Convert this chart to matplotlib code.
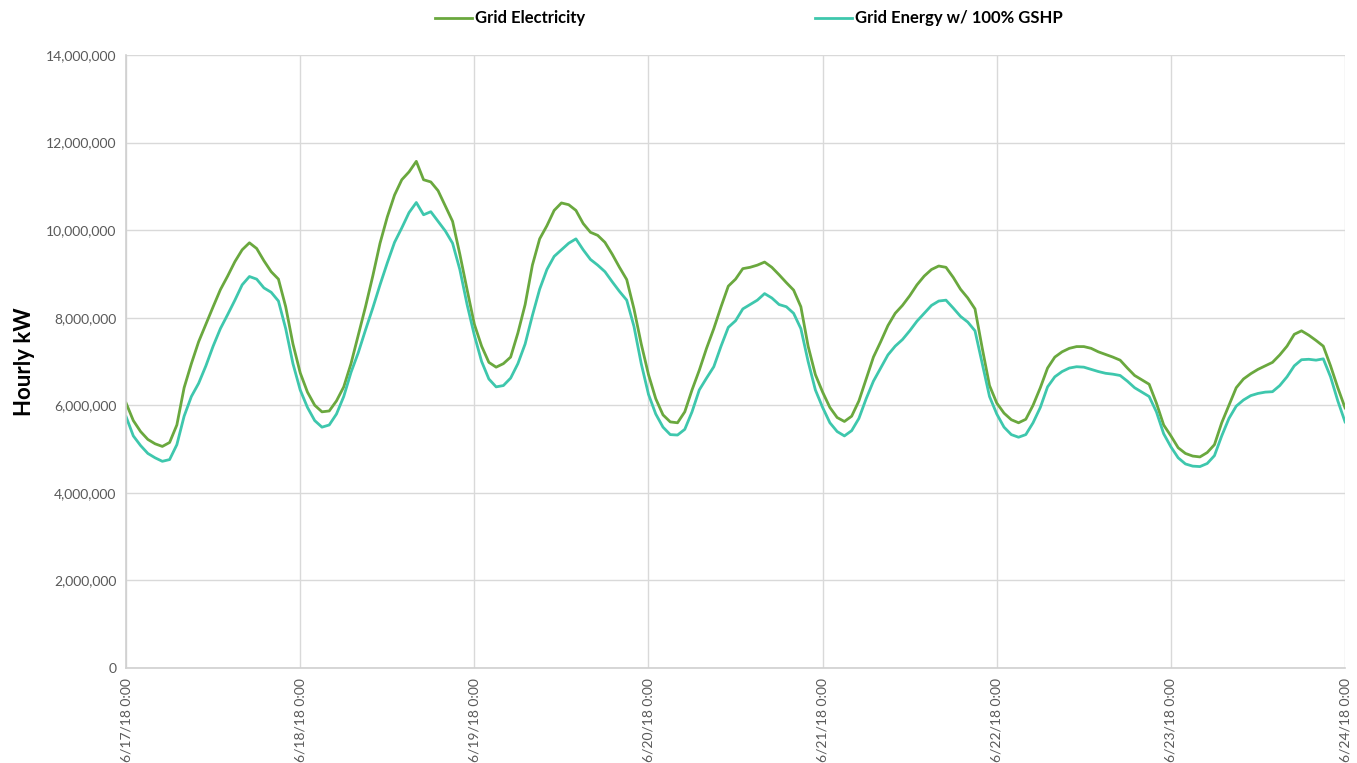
import matplotlib
matplotlib.use("Agg")
import matplotlib.pyplot as plt
import matplotlib.ticker as mticker

# hourly values (millions of kW), 6/17/18 0:00 .. 6/24/18 0:00
grid_elec = [
    6.05, 5.65, 5.40, 5.22, 5.12, 5.06, 5.15, 5.55, 6.40, 6.95, 7.45, 7.85,
    8.25, 8.64, 8.95, 9.28, 9.55, 9.71, 9.58, 9.30, 9.05, 8.88, 8.25, 7.40,
    6.74, 6.30, 6.00, 5.85, 5.87, 6.10, 6.42, 6.95, 7.60, 8.25, 8.95, 9.70,
    10.30, 10.80, 11.15, 11.33, 11.57, 11.15, 11.10, 10.90, 10.55, 10.20, 9.45, 8.64,
    7.85, 7.35, 6.98, 6.87, 6.95, 7.10, 7.65, 8.30, 9.20, 9.80, 10.10, 10.45,
    10.62, 10.58, 10.45, 10.15, 9.95, 9.88, 9.72, 9.45, 9.15, 8.87, 8.20, 7.40,
    6.70, 6.15, 5.78, 5.62, 5.60, 5.85, 6.35, 6.80, 7.30, 7.75, 8.25, 8.72,
    8.88, 9.12, 9.15, 9.20, 9.27, 9.15, 8.98, 8.80, 8.63, 8.25, 7.35, 6.70,
    6.30, 5.95, 5.72, 5.63, 5.75, 6.10, 6.60, 7.10, 7.45, 7.82, 8.10, 8.28,
    8.50, 8.75, 8.95, 9.10, 9.18, 9.15, 8.92, 8.65, 8.45, 8.20, 7.30, 6.45,
    6.05, 5.82, 5.67, 5.60, 5.68, 6.00, 6.40, 6.85, 7.10, 7.22, 7.30, 7.34,
    7.34, 7.30, 7.22, 7.16, 7.10, 7.03, 6.85, 6.68, 6.58, 6.48, 6.05, 5.55,
    5.30, 5.03, 4.90, 4.84, 4.82, 4.92, 5.10, 5.60, 6.00, 6.40, 6.60, 6.72,
    6.82, 6.90, 6.98, 7.15, 7.35, 7.62, 7.70, 7.60, 7.48, 7.35, 6.90, 6.40,
    5.94,
]
grid_gshp = [
    5.74, 5.30, 5.08, 4.90, 4.80, 4.72, 4.76, 5.10, 5.75, 6.20, 6.50, 6.90,
    7.35, 7.75, 8.07, 8.40, 8.75, 8.94, 8.88, 8.68, 8.58, 8.38, 7.75, 6.95,
    6.35, 5.95, 5.65, 5.50, 5.55, 5.80, 6.20, 6.75, 7.20, 7.72, 8.22, 8.75,
    9.25, 9.72, 10.05, 10.40, 10.63, 10.35, 10.42, 10.20, 9.98, 9.70, 9.10, 8.30,
    7.60, 7.00, 6.60, 6.42, 6.45, 6.62, 6.95, 7.40, 8.05, 8.65, 9.10, 9.40,
    9.55, 9.70, 9.80, 9.55, 9.33, 9.20, 9.05, 8.82, 8.60, 8.40, 7.80, 6.95,
    6.25, 5.80, 5.50, 5.33, 5.32, 5.45, 5.85, 6.35, 6.62, 6.88, 7.35, 7.78,
    7.93, 8.20, 8.30, 8.40, 8.55, 8.45, 8.30, 8.25, 8.10, 7.75, 7.00, 6.35,
    5.95, 5.60, 5.40, 5.30, 5.42, 5.70, 6.15, 6.55, 6.85, 7.15, 7.35, 7.50,
    7.70, 7.92, 8.10, 8.28, 8.38, 8.40, 8.22, 8.03, 7.90, 7.70, 6.95, 6.20,
    5.80, 5.50, 5.33, 5.27, 5.33, 5.60, 5.95, 6.42, 6.65, 6.77, 6.85, 6.88,
    6.87, 6.82, 6.77, 6.73, 6.71, 6.68, 6.55, 6.40, 6.30, 6.20, 5.85, 5.35,
    5.05, 4.80, 4.66, 4.61, 4.60, 4.67, 4.85, 5.30, 5.70, 5.98, 6.12, 6.22,
    6.27, 6.30, 6.31, 6.45, 6.65, 6.90, 7.04, 7.05, 7.03, 7.06, 6.65, 6.10,
    5.62,
]
day_labels = ["6/17/18 0:00", "6/18/18 0:00", "6/19/18 0:00", "6/20/18 0:00",
              "6/21/18 0:00", "6/22/18 0:00", "6/23/18 0:00", "6/24/18 0:00"]

hours = list(range(len(grid_elec)))
elec = [v * 1e6 for v in grid_elec]
gshp = [v * 1e6 for v in grid_gshp]

plt.rcParams['font.family'] = ['Lato', 'DejaVu Sans']

fig = plt.figure(figsize=(13.57, 7.63), dpi=100)
ax = fig.add_axes([0.0929, 0.1245, 0.8983, 0.8035])

l1, = ax.plot(hours, elec, color='#6aa83e', lw=2.0, label='Grid Electricity',
              solid_joinstyle='round')
l2, = ax.plot(hours, gshp, color='#3ec7ad', lw=2.0, label='Grid Energy w/ 100% GSHP',
              solid_joinstyle='round')

ax.set_xlim(0, 168)
ax.set_ylim(0, 14e6)
ax.set_yticks(range(0, 14000001, 2000000))
ax.yaxis.set_major_formatter(mticker.FuncFormatter(lambda v, p: f"{int(v):,}"))
ax.set_xticks(range(0, 169, 24))
ax.set_xticklabels(day_labels, rotation=90, va='top', ha='center')

ax.grid(True, color='#d9d9d9', lw=1.0)
ax.set_axisbelow(True)
for s in ['top', 'right']:
    ax.spines[s].set_visible(False)
for s in ['left', 'bottom']:
    ax.spines[s].set_color('#d0d0d0')
    ax.spines[s].set_linewidth(1.2)
ax.tick_params(length=0, colors='#595959', labelsize=10, pad=7)

ax.set_ylabel('Hourly kW', fontsize=16, fontweight='bold', color='black', labelpad=8)

leg = fig.legend(handles=[l1, l2], loc='upper center', bbox_to_anchor=(0.552, 1.006),
                 ncol=2, frameon=False, handlelength=2.2, handletextpad=0.2,
                 columnspacing=13.8, prop={'size': 12, 'weight': 'bold'})

fig.savefig('out.png', dpi=100)
